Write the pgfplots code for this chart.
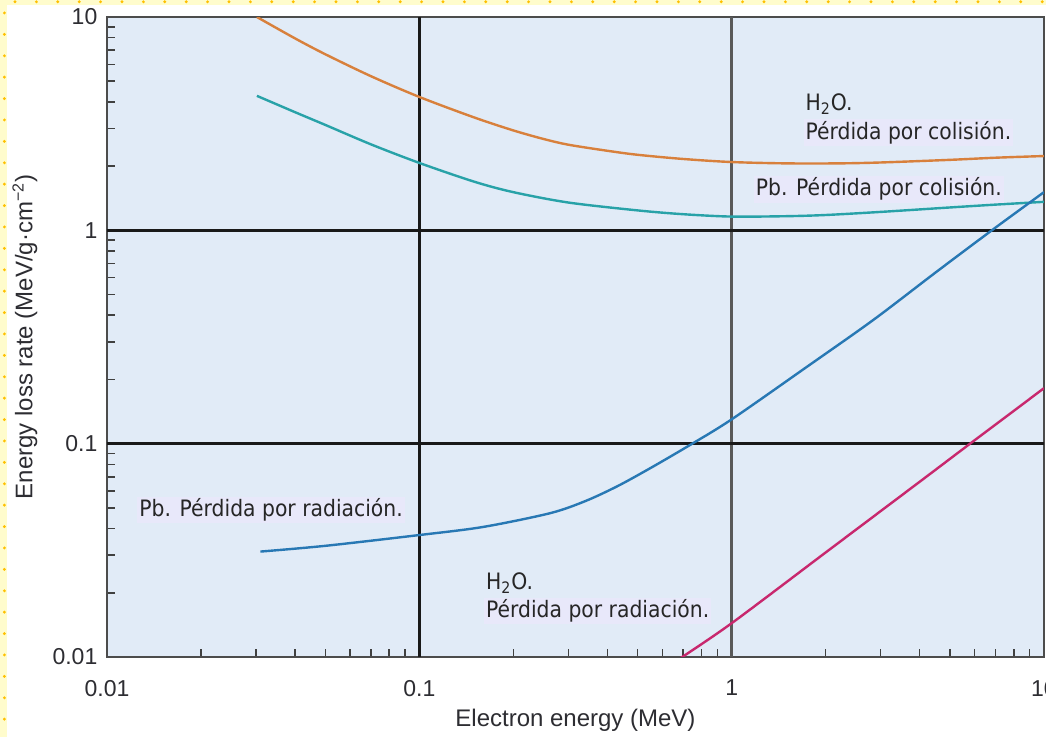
\documentclass[border=0pt]{standalone}
\usepackage{fontspec}
\setmainfont{Liberation Sans}
\newfontfamily\labfont{DejaVu Sans}[FakeStretch=0.9]
\usepackage{pgfplots}
\pgfplotsset{compat=1.18}
\definecolor{bgblue}{RGB}{225,235,247}
\definecolor{labfill}{RGB}{232,232,250}
\definecolor{corange}{RGB}{216,128,60}
\definecolor{cteal}{RGB}{40,162,168}
\definecolor{cblue}{RGB}{40,120,180}
\definecolor{cmag}{RGB}{200,40,110}
\definecolor{ystrip}{RGB}{255,252,204}
\definecolor{ydot}{RGB}{255,192,0}
\definecolor{txt}{RGB}{45,45,50}
\begin{document}
\begin{tikzpicture}
\fill[white] (-53.5pt,-40pt) rectangle (469.5pt,328.5pt);
\fill[ystrip] (-53.5pt,-40pt) rectangle (-50pt,328.5pt);
\fill[ystrip] (-53.5pt,326pt) rectangle (469.5pt,328.5pt);
\draw[ydot, line width=1.6pt, line cap=round, dash pattern=on 0pt off 10.7pt] (-51.3pt,322pt) -- (-51.3pt,-40pt);
\draw[ydot, line width=1.6pt, line cap=round, dash pattern=on 0pt off 10.7pt] (-46pt,327.6pt) -- (469.5pt,327.6pt);
\begin{axis}[
  xmode=log, ymode=log,
  xmin=0.01, xmax=10, ymin=0.01, ymax=10,
  scale only axis, width=468.5pt, height=320pt,
  axis background/.style={fill=bgblue},
  axis line style={draw=black!70, line width=1.2pt},
  tick align=inside, tick pos=left,
  xtick={0.01,0.1,1,10}, xticklabels={0.01,0.1,1,10},
  ytick={0.01,0.1,1,10}, yticklabels={0.01,0.1,1,10},
  major tick length=4pt, minor tick length=4pt,
  tick style={black!75, line width=0.8pt},
  ticklabel style={font=\fontsize{11.5}{13}\selectfont, text=txt},
  xticklabel style={yshift=-8pt},
  yticklabel style={xshift=-1.3pt},
  xlabel={Electron energy (MeV)},
  ylabel={Energy loss rate (MeV/g·cm\textsuperscript{−2})},
  every axis x label/.style={at={(rel axis cs:0.5,0)}, anchor=center, yshift=-31.5pt, font=\fontsize{12}{14}\selectfont, text=txt},
  every axis y label/.style={at={(rel axis cs:0,0.5)}, xshift=-41pt, rotate=90, anchor=center, font=\fontsize{12}{14}\selectfont, text=txt},
  /pgf/number format/assume math mode=true,
]
\draw[black!65, line width=1.5pt] (axis cs:1,0.01) -- (axis cs:1,10);
\draw[black!90, line width=1.5pt] (axis cs:0.1,0.01) -- (axis cs:0.1,10);
\draw[black!90, line width=1.5pt] (axis cs:0.01,1) -- (axis cs:10,1);
\draw[black!90, line width=1.5pt] (axis cs:0.01,0.1) -- (axis cs:10,0.1);
% H2O collision
\addplot[corange, line width=1.2pt, smooth] coordinates {
(0.0302,10.0) (0.04,7.94) (0.05,6.69) (0.07,5.28) (0.1,4.22) (0.15,3.38)
(0.2,2.94) (0.25,2.68) (0.3,2.52) (0.4,2.36) (0.5,2.26) (0.7,2.16) (1.0,2.09)
(1.5,2.06) (2.2,2.06) (3,2.08) (5,2.14) (7,2.19) (10,2.23)};
% Pb collision
\addplot[cteal, line width=1.2pt, smooth] coordinates {
(0.0302,4.27) (0.04,3.58) (0.05,3.12) (0.07,2.53) (0.1,2.07) (0.15,1.69)
(0.2,1.51) (0.3,1.35) (0.5,1.24) (0.7,1.19) (1.0,1.16) (1.5,1.165) (2,1.18)
(3,1.22) (5,1.28) (7,1.32) (10,1.36)};
% Pb radiation
\addplot[cblue, line width=1.2pt, smooth] coordinates {
(0.031,0.0312) (0.05,0.0332) (0.1,0.0373) (0.16,0.0407) (0.262,0.0472)
(0.34,0.0538) (0.43,0.0631) (0.55,0.0769) (0.736,0.0986) (1.0,0.13) (1.74,0.229)
(2.84,0.38) (4.5,0.635) (6.87,1.01) (10,1.51)};
% H2O radiation
\addplot[cmag, line width=1.2pt, smooth] coordinates {
(0.68,0.0098) (1.0,0.0144) (2,0.0309) (4,0.0663) (5.8,0.1) (10,0.182)};
\tikzset{lab/.style={anchor=west, font=\labfont\fontsize{11.3}{13}\selectfont, text=black!85, inner sep=1pt}}
\node[lab] at (rel axis cs:0.743,0.864) {H\textsubscript{2}O.};
\node[lab, fill=labfill] at (rel axis cs:0.743,0.819) {Pérdida por colisión.};
\node[lab, fill=labfill] at (rel axis cs:0.690,0.731) {Pb. Pérdida por colisión.};
\node[lab, fill=labfill] at (rel axis cs:0.032,0.2297) {Pb. Pérdida por radiación.};
\node[lab] at (rel axis cs:0.402,0.1156) {H\textsubscript{2}O.};
\node[lab, fill=labfill] at (rel axis cs:0.402,0.0719) {Pérdida por radiación.};
\end{axis}
\pgfresetboundingbox
\useasboundingbox (-53.5pt,-40pt) rectangle (469.5pt,328.5pt);
\end{tikzpicture}
\end{document}
